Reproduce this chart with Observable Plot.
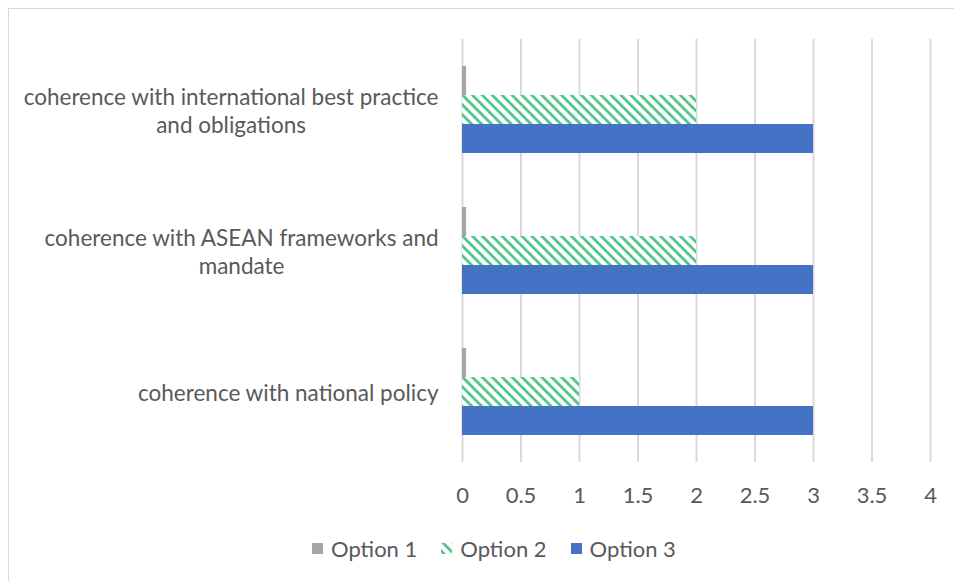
<!DOCTYPE html>
<html>
<head>
<meta charset="utf-8">
<script src="https://cdn.jsdelivr.net/npm/d3@7"></script>
<script src="https://cdn.jsdelivr.net/npm/@observablehq/plot@0.6"></script>
<style>
  html, body { margin: 0; padding: 0; background: #fff; overflow: hidden; }
  body { width: 954px; height: 581px; position: relative; font-family: Lato, sans-serif; }
  #border { position: absolute; left: 8px; top: 8px; width: 1000px; height: 1000px; border: 1px solid #d9d9d9; box-sizing: border-box; }
  #chart { position: absolute; left: 0; top: 0; }
  #legend { position: absolute; left: 312px; top: 535px; display: flex; align-items: center; font-size: 22px; color: #595959; white-space: nowrap; }
  .item { display: flex; align-items: center; margin-right: 24px; }
  .sw { width: 11px; height: 11px; margin-right: 8px; display: inline-block; }
</style>
</head>
<body>
<div id="border"></div>
<div id="chart"></div>
<div id="legend"></div>
<script>
const categories = [
  "coherence with international best practice and obligations",
  "coherence with ASEAN frameworks and mandate",
  "coherence with national policy"
];
const categoryLabels = [
  "coherence with international best practice\nand obligations",
  "coherence with ASEAN frameworks and\nmandate",
  "coherence with national policy"
];
const options = ["Option 1", "Option 2", "Option 3"];
const option1 = [0.035, 0.035, 0.035];
const option2 = [2, 2, 1];
const option3 = [3, 3, 3];
const xTicks = [0, 0.5, 1, 1.5, 2, 2.5, 3, 3.5, 4];
const optionColors = ["#A5A5A5", "url(#hatch)", "#4472C4"];

const seriesValues = [option1, option2, option3];
const data = categories.flatMap((c, i) =>
  options.map((o, j) => ({category: c, option: o, value: seriesValues[j][i]}))
);

const chart = Plot.plot({
  width: 954,
  height: 520,
  marginLeft: 462,
  marginRight: 24,
  marginTop: 38,
  marginBottom: 57,
  x: {domain: [0, 4], label: null},
  fy: {domain: categories, padding: 0, label: null},
  y: {domain: options, paddingInner: 0, paddingOuter: 0.915, axis: null},
  color: {domain: options, range: optionColors},
  style: {fontFamily: "Lato", fontSize: "22px", color: "#595959", background: "transparent"},
  marks: [
    Plot.gridX(xTicks, {stroke: "#d9d9d9", strokeWidth: 2, strokeOpacity: 1}),
    Plot.barX(data, {x: "value", y: "option", fy: "category", fill: "option"}),
    Plot.axisX(xTicks, {tickSize: 0, tickPadding: 25, tickFormat: d => String(d), fontSize: 22, label: null}),
    Plot.axisFy({
      anchor: "left",
      tickSize: 0,
      tickPadding: 24,
      fontSize: 22.5,
      lineHeight: 28 / 22.5,
      label: null,
      tickFormat: c => categoryLabels[categories.indexOf(c)]
    })
  ]
});

const ns = "http://www.w3.org/2000/svg";
const defs = document.createElementNS(ns, "defs");
defs.innerHTML = `<pattern id="hatch" patternUnits="userSpaceOnUse" width="7" height="7" patternTransform="rotate(-45)">
  <rect width="7" height="7" fill="#ffffff"/>
  <line x1="1.5" y1="0" x2="1.5" y2="7" stroke="#44c081" stroke-width="2.6"/>
</pattern>`;
chart.insertBefore(defs, chart.firstChild);
document.getElementById("chart").appendChild(chart);

// center multi-line category labels relative to their longest line, keeping the right edge
chart.querySelectorAll('g[aria-label="fy-axis tick label"] text').forEach(t => {
  const b1 = t.getBBox();
  const right = b1.x + b1.width;
  t.setAttribute("text-anchor", "middle");
  const b2 = t.getBBox();
  const delta = (right - b1.width / 2) - (b2.x + b2.width / 2);
  const tr = t.getAttribute("transform") || "";
  t.setAttribute("transform", tr + ` translate(${delta},0)`);
});

// legend
const legend = document.getElementById("legend");
options.forEach((o, j) => {
  const item = document.createElement("div");
  item.className = "item";
  const sw = document.createElementNS(ns, "svg");
  sw.setAttribute("width", 11); sw.setAttribute("height", 11);
  sw.setAttribute("class", "sw");
  const r = document.createElementNS(ns, "rect");
  r.setAttribute("width", 11); r.setAttribute("height", 11);
  r.setAttribute("fill", optionColors[j]);
  sw.appendChild(r);
  item.appendChild(sw);
  const s = document.createElement("span");
  s.textContent = o;
  item.appendChild(s);
  legend.appendChild(item);
});
</script>
</body>
</html>
